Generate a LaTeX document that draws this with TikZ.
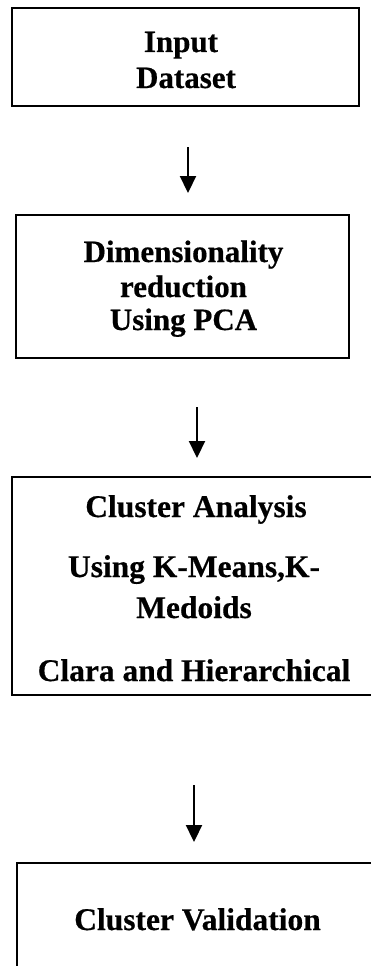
\documentclass[tikz,border=0pt]{standalone}
\usepackage{fontspec}
\setmainfont{Liberation Serif}
\newfontfamily\heavyfont[FakeBold=0.5]{Liberation Serif Bold}
\usetikzlibrary{arrows.meta}
\begin{document}
\begin{tikzpicture}[x=1pt,y=-1pt,
  box/.style={draw=black,line width=2pt,rectangle,inner sep=0pt},
  txt/.style={anchor=base,inner sep=0pt},
  fa/.style={font=\fontsize{31}{37}\heavyfont\selectfont},
  fb/.style={font=\fontsize{31.5}{38}\heavyfont\selectfont},
  flow/.style={line width=2.2pt,-{Triangle[width=16pt,length=17pt]}}]
\useasboundingbox (0,0) rectangle (371,966);
\clip (0,0) rectangle (371,966);
% boxes
\node[box,minimum width=347pt,minimum height=98pt] (b1) at (185.5,57) {};
\node[box,minimum width=333pt,minimum height=143pt] (b2) at (182.5,286.5) {};
\node[box,minimum width=363pt,minimum height=218pt] (b3) at (193.5,586) {};
\node[box,minimum width=363pt,minimum height=137pt] (b4) at (198.5,931.5) {};
% texts
\node[txt,fa] (t1a) at (181,52) {Input};
\node[txt,fa] (t1b) at (186,88) {Dataset};
\node[txt,fa] (t2a) at (183.5,262) {Dimensionality};
\node[txt,fa] (t2b) at (183.5,297) {reduction};
\node[txt,fa] (t2c) at (183.5,330) {Using PCA};
\node[txt,fb] (t3a) at (196,517) {Cluster Analysis};
\node[txt,fb] (t3b) at (194,577) {Using K-Means,K-};
\node[txt,fb] (t3c) at (194,618) {Medoids};
\node[txt,fb] (t3d) at (194,681) {Clara and Hierarchical};
\node[txt,fb] (t4a) at (197.5,930) {Cluster Validation};
% arrows
\coordinate (a1s) at (188,147); \coordinate (a1e) at (188,193);
\coordinate (a2s) at (197,407); \coordinate (a2e) at (197,458);
\coordinate (a3s) at (194,785); \coordinate (a3e) at (194,842);
\draw[flow] (a1s) -- (a1e);
\draw[flow] (a2s) -- (a2e);
\draw[flow] (a3s) -- (a3e);
\end{tikzpicture}
\end{document}
